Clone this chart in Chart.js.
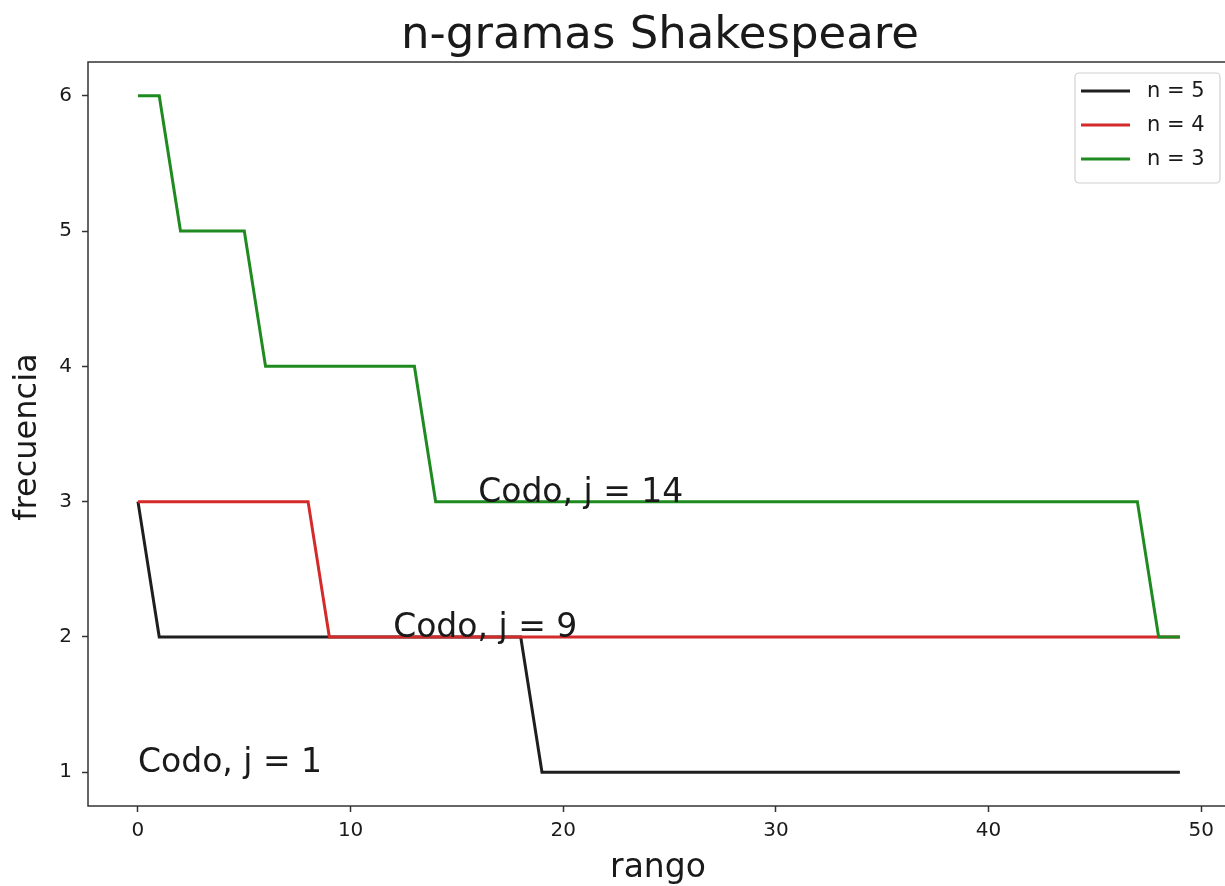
<!DOCTYPE html>
<html>
<head>
<meta charset="utf-8">
<script src="https://cdn.jsdelivr.net/npm/chart.js@4/dist/chart.umd.min.js"></script>
<style>
  html, body { margin: 0; padding: 0; background: #fff; overflow: hidden; }
  canvas { display: block; }
</style>
</head>
<body>
<canvas id="c" width="1240" height="886"></canvas>
<script>
// ---- data ----
const rango = Array.from({length: 50}, (_, i) => i);
const freqN5 = [3,2,2,2,2,2,2,2,2,2, 2,2,2,2,2,2,2,2,2,1, 1,1,1,1,1,1,1,1,1,1, 1,1,1,1,1,1,1,1,1,1, 1,1,1,1,1,1,1,1,1,1];
const freqN4 = [3,3,3,3,3,3,3,3,3,2, 2,2,2,2,2,2,2,2,2,2, 2,2,2,2,2,2,2,2,2,2, 2,2,2,2,2,2,2,2,2,2, 2,2,2,2,2,2,2,2,2,2];
const freqN3 = [6,6,5,5,5,5,4,4,4,4, 4,4,4,4,3,3,3,3,3,3, 3,3,3,3,3,3,3,3,3,3, 3,3,3,3,3,3,3,3,3,3, 3,3,3,3,3,3,3,3,2,2];
const seriesLabels = ['n = 5', 'n = 4', 'n = 3'];
const xTickValues = [0, 10, 20, 30, 40, 50];
const yTickValues = [1, 2, 3, 4, 5, 6];
const annotX = [0, 12, 16];
const annotY = [1, 2, 3];
const annotText = ['Codo, j = 1', 'Codo, j = 9', 'Codo, j = 14'];
const chartTitle = 'n-gramas Shakespeare';
const xTitle = 'rango';
const yTitle = 'frecuencia';

const FONT = '"DejaVu Sans", sans-serif';
const TXT = '#1a1a1a';
const AX = '#333333';

function pts(ys) { return rango.map((x, i) => ({x: x, y: ys[i]})); }

const colors = ['#1e1e1e', '#d42a2a', '#1f8a1f'];

const overlay = {
  id: 'overlay',
  afterDatasetsDraw(chart) {
    const ctx = chart.ctx;
    const a = chart.chartArea;
    const xs = chart.scales.x, ys = chart.scales.y;
    ctx.save();
    // spines
    ctx.strokeStyle = AX;
    ctx.lineWidth = 1.5;
    ctx.strokeRect(a.left, a.top, a.right - a.left, a.bottom - a.top);
    // annotations
    ctx.fillStyle = TXT;
    ctx.font = '33px ' + FONT;
    ctx.textAlign = 'left';
    ctx.textBaseline = 'alphabetic';
    for (let i = 0; i < annotText.length; i++) {
      ctx.fillText(annotText[i], xs.getPixelForValue(annotX[i]), ys.getPixelForValue(annotY[i]));
    }
    // title
    const cx = (a.left + a.right) / 2;
    ctx.textAlign = 'center';
    ctx.font = '45px ' + FONT;
    ctx.fillText(chartTitle, cx, 48);
    // x title
    ctx.font = '33px ' + FONT;
    ctx.fillText(xTitle, cx - 2, 877);
    // y title
    ctx.save();
    ctx.translate(36, (a.top + a.bottom) / 2 + 3);
    ctx.rotate(-Math.PI / 2);
    ctx.font = '32px ' + FONT;
    ctx.fillText(yTitle, 0, 0);
    ctx.restore();
    // legend
    const bx = 1075, by = 73, bw = 145, bh = 110;
    ctx.beginPath();
    if (ctx.roundRect) ctx.roundRect(bx, by, bw, bh, 4); else ctx.rect(bx, by, bw, bh);
    ctx.fillStyle = 'rgba(255,255,255,0.85)';
    ctx.fill();
    ctx.strokeStyle = '#d0d0d0';
    ctx.lineWidth = 1.2;
    ctx.stroke();
    ctx.font = '21px ' + FONT;
    ctx.textAlign = 'left';
    ctx.textBaseline = 'middle';
    const rowY = [91, 125, 159];
    chart.data.datasets.forEach((ds, i) => {
      ctx.strokeStyle = ds.borderColor;
      ctx.lineWidth = 3;
      ctx.beginPath();
      ctx.moveTo(1081, rowY[i]);
      ctx.lineTo(1130, rowY[i]);
      ctx.stroke();
      ctx.fillStyle = TXT;
      ctx.fillText(ds.label, 1147, rowY[i] + 1);
    });
    ctx.restore();
  }
};

const tickFont = { family: FONT, size: 20 };

new Chart(document.getElementById('c'), {
  type: 'line',
  data: {
    datasets: [
      { label: seriesLabels[0], data: pts(freqN5), borderColor: colors[0], order: 2 },
      { label: seriesLabels[1], data: pts(freqN4), borderColor: colors[1], order: 1 },
      { label: seriesLabels[2], data: pts(freqN3), borderColor: colors[2], order: 0 }
    ].map(d => Object.assign(d, { borderWidth: 3, pointRadius: 0, tension: 0, fill: false, backgroundColor: d.borderColor }))
  },
  options: {
    responsive: false,
    animation: false,
    devicePixelRatio: 1,
    layout: { padding: { top: 62, right: 8, left: 0, bottom: 0 } },
    plugins: { legend: { display: false }, title: { display: false }, tooltip: { enabled: false } },
    scales: {
      x: {
        type: 'linear', min: -2.35, max: 51.45,
        afterBuildTicks: s => { s.ticks = xTickValues.map(v => ({ value: v })); },
        afterFit: s => { s.height = 80; },
        ticks: { font: tickFont, color: TXT, padding: 7, maxRotation: 0, autoSkip: false },
        grid: { drawOnChartArea: false, drawTicks: true, tickLength: 6, tickWidth: 1.5, tickColor: AX },
        border: { display: false }
      },
      y: {
        type: 'linear', min: 0.75, max: 6.25,
        afterBuildTicks: s => { s.ticks = yTickValues.map(v => ({ value: v })); },
        afterFit: s => { s.width = 88; },
        ticks: { font: tickFont, color: TXT, padding: 10, autoSkip: false },
        grid: { drawOnChartArea: false, drawTicks: true, tickLength: 6, tickWidth: 1.5, tickColor: AX },
        border: { display: false }
      }
    }
  },
  plugins: [overlay]
});
</script>
</body>
</html>
